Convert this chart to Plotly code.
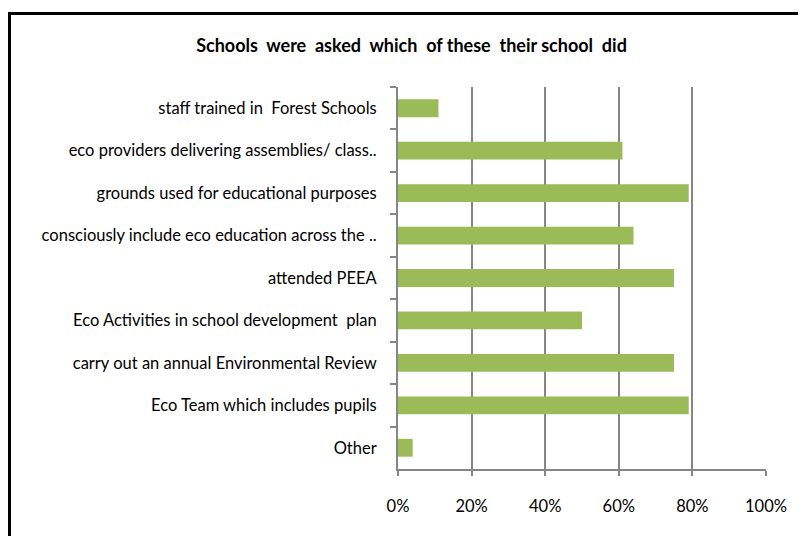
import plotly.graph_objects as go

categories = [
    "staff trained in  Forest Schools",
    "eco providers delivering assemblies/ class..",
    "grounds used for educational purposes",
    "consciously include eco education across the ..",
    "attended PEEA",
    "Eco Activities in school development  plan",
    "carry out an annual Environmental Review",
    "Eco Team which includes pupils",
    "Other",
]
values = [0.11, 0.61, 0.79, 0.64, 0.75, 0.50, 0.75, 0.79, 0.04]
x_ticks = [0, 0.2, 0.4, 0.6, 0.8, 1.0]
x_tick_labels = ["0%", "20%", "40%", "60%", "80%", "100%"]
title_words = ["Schools", "were", "asked", "which", "of these", "their school", "did"]

# page body has an 8px margin; coordinates below are in figure pixels
OFF = 8
W, H = 806, 536
L, R, T, B = 398 - OFF, 766 - OFF, 87 - OFF, 469 - OFF

def px(x):
    return (x - OFF - L) / (R - L)

def py(y):
    return (B - (y - OFF)) / (B - T)

fig = go.Figure(go.Bar(
    x=values, y=categories, orientation="h",
    marker=dict(color="#9BBB59", line=dict(width=0)),
    width=0.42,
))

font_family = "Lato, 'Open Sans', sans-serif"
title = "&nbsp; ".join(title_words)
fig.update_layout(
    width=W, height=H,
    margin=dict(l=L, r=W - R, t=T, b=H - B),
    paper_bgcolor="white", plot_bgcolor="white",
    showlegend=False,
    font=dict(family=font_family, size=16.5, color="#000000"),
    title=dict(text="<b>" + title + "</b>", x=(411.5 - OFF) / W, xanchor="center",
               y=1 - (46 - OFF) / H, yanchor="middle",
               font=dict(family=font_family, size=18, color="#000000")),
)
fig.update_xaxes(
    range=[0, 1.0], tickvals=x_ticks, ticktext=x_tick_labels,
    showgrid=True, gridcolor="#868686", gridwidth=2,
    showline=True, linecolor="#868686", linewidth=2,
    ticks="outside", ticklen=5, tickwidth=2, tickcolor="#868686",
    ticklabelstandoff=16, zeroline=False,
    tickfont=dict(size=16.5),
)
fig.update_yaxes(
    autorange="reversed",
    showgrid=False,
    showline=True, linecolor="#868686", linewidth=2,
    ticks="outside", ticklen=6, tickwidth=2, tickcolor="#868686",
    tickson="boundaries", ticklabelstandoff=16,
    tickfont=dict(size=16.5),
)
fig.add_shape(type="rect", xref="paper", yref="paper",
              x0=px(9.5), x1=px(840), y0=py(570), y1=py(13.5),
              line=dict(color="black", width=3), fillcolor="rgba(0,0,0,0)",
              layer="above")
fig.write_html("out.html")
